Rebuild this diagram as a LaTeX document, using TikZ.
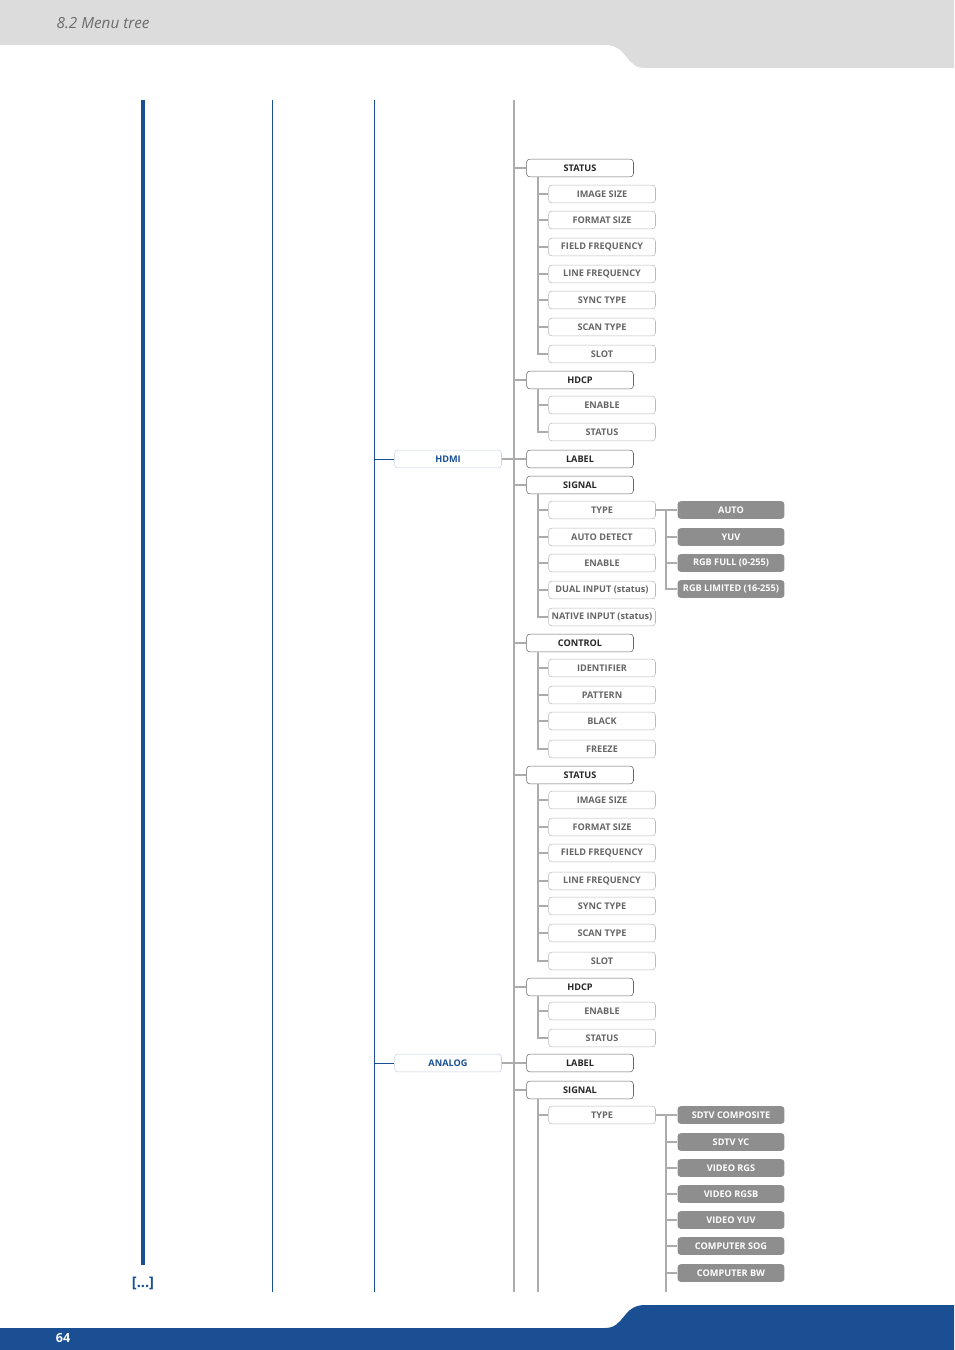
\documentclass[tikz,border=0pt]{standalone}
\usepackage{fontspec}
\setmainfont{Open Sans}
\definecolor{menublue}{HTML}{1A4F94}
\definecolor{hdrgray}{HTML}{DCDCDC}
\definecolor{optgray}{HTML}{8E8E8E}
\tikzset{
  box/.style={rounded corners=2.5pt, minimum width=2.83cm, minimum height=0.47cm, inner sep=0pt,
    font=\fontsize{6.9}{7}\selectfont\bfseries},
  lvlone/.style={box, draw=menublue!25, text=menublue},
  lvltwo/.style={box, draw=gray!80!black, text=black!85},
  lvlthree/.style={box, draw=gray!55, text=gray!80!black},
  lvlfour/.style={box, fill=optgray, text=white},
  gline/.style={draw=gray!65, line width=0.8pt},
  bline/.style={draw=menublue, line width=0.6pt},
}
\newcommand\sublist[3]{%
  \foreach \yy/\tt [count=\i] in {#3} {
    \node[lvlthree] (#2\i) at (602,\yy) {\tt};
    \draw[gline] (#1.south -| sub) -- (#2\i.west -| sub) -- (#2\i.west);
  }}
\begin{document}
\begin{tikzpicture}[x=0.02646cm, y=-0.02646cm]
\useasboundingbox (0,0) rectangle (954,1350);

% header and footer
\fill[hdrgray] (0,0) -- (954,0) -- (954,68) -- (645,68) .. controls (625,68) and (628,45) .. (605,45) -- (0,45) -- cycle;
\node[anchor=west, text=gray!85!black, font=\itshape\fontsize{11.5}{13}\selectfont] (title) at (52,23) {8.2 Menu tree};
\fill[menublue] (0,1350) -- (0,1328) -- (605,1328) .. controls (625,1328) and (622,1305) .. (645,1305) -- (954,1305) -- (954,1350) -- cycle;
\node[text=white, font=\bfseries\fontsize{9.5}{11}\selectfont] (page) at (63,1338) {64};

% columns
\draw[menublue, line width=3pt] (143,100) -- (143,1265);
\node[text=menublue, font=\bfseries\fontsize{11}{12}\selectfont] (more) at (143,1283) {[...]};
\draw[bline] (272,100) -- (272,1292);
\draw[bline] (374,100) -- (374,1292);
\coordinate (spine) at (514,0);
\coordinate (sub) at (538,0);
\coordinate (opt) at (666,0);
\draw[gline] (514,100) -- (514,1292);

% upper part (continued)
\node[lvltwo] (status1) at (580,168) {STATUS};
\sublist{status1}{sa}{194/IMAGE SIZE, 220/FORMAT SIZE, 247/FIELD FREQUENCY, 274/LINE FREQUENCY, 300/SYNC TYPE, 327/SCAN TYPE, 354/SLOT}
\node[lvltwo] (hdcp1) at (580,380) {HDCP};
\sublist{hdcp1}{ha}{405/ENABLE, 432/STATUS}

% HDMI
\node[lvlone] (hdmi) at (448,459) {HDMI};
\draw[bline] (hdmi.west -| 374,0) -- (hdmi.west);
\node[lvltwo] (hlabel) at (580,459) {LABEL};
\draw[gline] (hdmi.east) -- (hlabel.west);
\node[lvltwo] (hsignal) at (580,485) {SIGNAL};
\sublist{hsignal}{hs}{510/TYPE, 537/AUTO DETECT, 563/ENABLE, 590/DUAL INPUT (status), 617/NATIVE INPUT (status)}
\foreach \yy/\tt [count=\i] in {510/AUTO, 537/YUV, 563/RGB FULL (0-255), 589/RGB LIMITED (16-255)} {
  \node[lvlfour] (ho\i) at (731,\yy) {\tt};
  \draw[gline] (hs1.east) -| (opt |- hs1.east) -- (ho\i.west -| opt) -- (ho\i.west);
}
\node[lvltwo] (hcontrol) at (580,643) {CONTROL};
\sublist{hcontrol}{hc}{668/IDENTIFIER, 695/PATTERN, 721/BLACK, 749/FREEZE}
\node[lvltwo] (hstatus) at (580,775) {STATUS};
\sublist{hstatus}{hst}{800/IMAGE SIZE, 827/FORMAT SIZE, 853/FIELD FREQUENCY, 881/LINE FREQUENCY, 906/SYNC TYPE, 933/SCAN TYPE, 961/SLOT}
\node[lvltwo] (hhdcp) at (580,987) {HDCP};
\sublist{hhdcp}{hh}{1011/ENABLE, 1038/STATUS}
\foreach \n in {status1, hdcp1, hsignal, hcontrol, hstatus, hhdcp}
  \draw[gline] (\n.west -| spine) -- (\n.west);

% ANALOG
\node[lvlone] (analog) at (448,1063) {ANALOG};
\draw[bline] (analog.west -| 374,0) -- (analog.west);
\node[lvltwo] (alabel) at (580,1063) {LABEL};
\draw[gline] (analog.east) -- (alabel.west);
\node[lvltwo] (asignal) at (580,1090) {SIGNAL};
\draw[gline] (asignal.west -| spine) -- (asignal.west);
\sublist{asignal}{as}{1115/TYPE}
\draw[gline] (asignal.south -| sub) -- (538,1292);
\foreach \yy/\tt [count=\i] in {1115/SDTV COMPOSITE, 1142/SDTV YC, 1168/VIDEO RGS, 1194/VIDEO RGSB, 1220/VIDEO YUV, 1246/COMPUTER SOG, 1273/COMPUTER BW} {
  \node[lvlfour] (ao\i) at (731,\yy) {\tt};
  \draw[gline] (as1.east) -| (opt |- as1.east) -- (ao\i.west -| opt) -- (ao\i.west);
}
\draw[gline] (opt |- as1.east) -- (666,1292);
\end{tikzpicture}
\end{document}
